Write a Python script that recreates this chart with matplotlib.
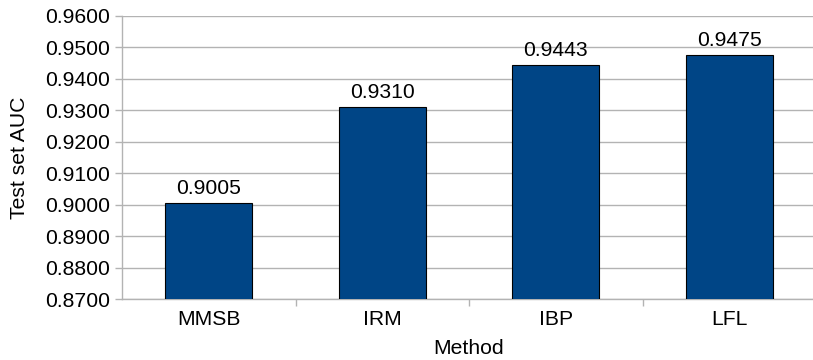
import numpy as np
import matplotlib.pyplot as plt

plt.rcParams['font.family'] = ['Liberation Sans', 'DejaVu Sans']

methods = ['MMSB', 'IRM', 'IBP', 'LFL']
auc = [0.9005, 0.9310, 0.9443, 0.9475]
yticks = [0.87, 0.88, 0.89, 0.90, 0.91, 0.92, 0.93, 0.94, 0.95, 0.96]

W, H = 813, 360
fs = 15.2
fig = plt.figure(figsize=(W / 100, H / 100), dpi=100)
# plot area runs past the right edge of the image, like the original
ax = fig.add_axes([122 / W, 1 - 299.3 / H, (816 - 122) / W, (299.3 - 15.7) / H])

grey = '#b3b3b3'
x = np.arange(len(methods))
ax.bar(x, auc, width=0.5, color='#004586', edgecolor='black', linewidth=0.8,
       zorder=3)

for xi, v in zip(x, auc):
    ax.text(xi, v + 0.0017, '%.4f' % v, ha='center', va='bottom', fontsize=fs, zorder=4)

ax.set_xlim(-0.5, len(methods) - 0.5)
ax.set_ylim(0.87, 0.96)
ax.set_yticks(yticks)
ax.set_yticklabels(['%.4f' % t for t in yticks], fontsize=fs)
ax.yaxis.grid(True, color=grey, linewidth=1, zorder=0)
ax.set_axisbelow(True)

ax.set_xticks(x)
ax.set_xticklabels(methods, fontsize=fs)
ax.set_xticks(np.arange(0.5, len(methods) - 0.5, 1), minor=True)
ax.tick_params(axis='x', which='major', length=0, pad=8)
ax.tick_params(axis='x', which='minor', length=5, color=grey, width=1)
ax.tick_params(axis='y', length=5, color=grey, width=1, pad=3.5)

for s in ['top', 'right']:
    ax.spines[s].set_visible(False)
for s in ['left', 'bottom']:
    ax.spines[s].set_color(grey)
    ax.spines[s].set_linewidth(1)

ax.set_xlabel('Method', fontsize=fs, labelpad=7)
ax.set_ylabel('Test set AUC', fontsize=fs, labelpad=12)

fig.savefig('out.png', dpi=100)
